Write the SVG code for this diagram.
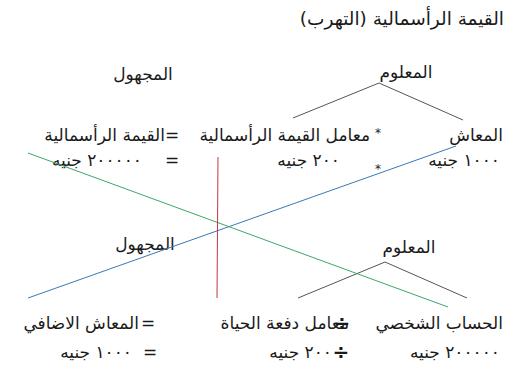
<svg xmlns="http://www.w3.org/2000/svg" width="510" height="373" viewBox="0 0 510 373">
<style>
text{font-family:"DejaVu Sans",sans-serif;fill:#1a1a1a;font-size:17px}
.r{direction:rtl;text-anchor:start}
.m{text-anchor:middle}
.t{font-size:18.5px}
.ast{font-size:12px}
.div{font-weight:bold;font-size:20px}
.tree{stroke:#555;stroke-width:1;fill:none}
</style>
<rect width="510" height="373" fill="#fff"/>
<text class="r t" x="504" y="25" direction="rtl">القيمة الرأسمالية (التهرب)</text>
<g id="unknown1"><text class="m" x="143" y="80">المجهول</text></g>
<g id="known1"><text class="m" x="406" y="78">المعلوم</text></g>
<g id="pension"><text class="r" x="503" y="141" direction="rtl">المعاش</text><text class="r" x="500" y="166" direction="rtl">١٠٠٠ جنيه</text></g>
<g id="factor1"><text class="m ast" x="378" y="137">*</text><text class="r" x="370" y="141" direction="rtl">معامل القيمة الرأسمالية</text><text class="m ast" x="378" y="173">*</text><text class="r" x="340" y="166" direction="rtl">٢٠٠ جنيه</text></g>
<g id="capital"><text class="m" x="172" y="141">=</text><text class="r" x="165" y="141" direction="rtl">القيمة الرأسمالية</text><text class="m" x="172" y="166">=</text><text class="r" x="142" y="166" direction="rtl">٢٠٠٠٠٠ جنيه</text></g>
<g id="unknown2"><text class="m" x="145" y="250">المجهول</text></g>
<g id="known2"><text class="m" x="409" y="253">المعلوم</text></g>
<g id="account"><text class="r" x="503" y="329" direction="rtl">الحساب الشخصي</text><text class="r" x="500" y="358" direction="rtl">٢٠٠٠٠٠ جنيه</text></g>
<g id="factor2"><text class="r" x="349" y="329" direction="rtl">معامل دفعة الحياة</text><text class="m div" x="342" y="330">÷</text><text class="m div" x="341" y="359">÷</text><text class="r" x="332" y="358" direction="rtl">٢٠٠ جنيه</text></g>
<g id="extra"><text class="m" x="148" y="329">=</text><text class="r" x="139" y="329" direction="rtl">المعاش الاضافي</text><text class="m" x="150" y="358">=</text><text class="r" x="132" y="358" direction="rtl">١٠٠٠ جنيه</text></g>
<g id="connectors">
<polyline class="tree" points="293,118 379,83 463,120"/>
<polyline class="tree" points="298,298 385,262 467,298"/>
<line x1="456" y1="146" x2="28" y2="298" stroke="#3a78b5" stroke-width="1"/>
<line x1="28" y1="153" x2="448" y2="307" stroke="#3aa86b" stroke-width="1"/>
<line x1="218" y1="157" x2="217" y2="298" stroke="#c0393b" stroke-width="1"/>
</g>
</svg>
